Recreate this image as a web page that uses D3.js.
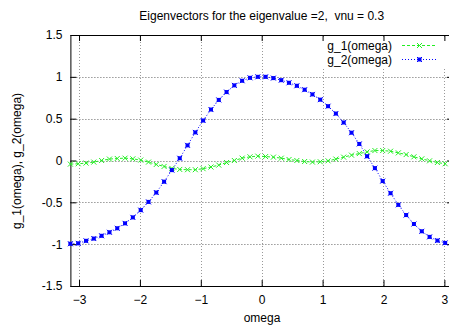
<!DOCTYPE html>
<html>
<head>
<meta charset="utf-8">
<script src="https://cdn.jsdelivr.net/npm/d3@7"></script>
<style>
  body { margin: 0; background: #fff; }
  text { font-family: "Liberation Sans", Arial, sans-serif; }
</style>
</head>
<body>
<script>
var w = 449;
var h = 331;

var omega = [
  -3.142, -3.013, -2.885, -2.757, -2.629, -2.500, -2.372, -2.244, -2.116, -1.987,
  -1.859, -1.731, -1.603, -1.475, -1.346, -1.218, -1.090, -0.962, -0.833, -0.705,
  -0.577, -0.449, -0.321, -0.192, -0.064, 0.064, 0.192, 0.321, 0.449, 0.577,
  0.705, 0.833, 0.962, 1.090, 1.218, 1.346, 1.475, 1.603, 1.731, 1.859,
  1.987, 2.116, 2.244, 2.372, 2.500, 2.629, 2.757, 2.885, 3.013
];

var g1 = [
  -0.043, -0.039, -0.031, -0.019, 0.000, 0.017, 0.024, 0.028, 0.020, 0.005,
  -0.019, -0.047, -0.071, -0.095, -0.107, -0.110, -0.110, -0.098, -0.078, -0.055,
  -0.024, 0.000, 0.028, 0.044, 0.052, 0.047, 0.040, 0.028, 0.012, 0.000,
  -0.012, -0.019, -0.015, -0.004, 0.017, 0.040, 0.064, 0.083, 0.103, 0.119,
  0.119, 0.111, 0.091, 0.071, 0.044, 0.020, -0.004, -0.024, -0.039
];

var g2 = [
  -0.995, -0.99, -0.96, -0.933, -0.90, -0.858, -0.81, -0.751, -0.68, -0.593,
  -0.495, -0.383, -0.253, -0.115, 0.027, 0.181, 0.336, 0.478, 0.609, 0.724,
  0.818, 0.898, 0.953, 0.988, 1.0, 1.0, 0.985, 0.96, 0.929, 0.893,
  0.846, 0.79, 0.727, 0.649, 0.561, 0.454, 0.332, 0.198, 0.051, -0.091,
  -0.246, -0.391, -0.53, -0.652, -0.759, -0.846, -0.913, -0.957, -0.985
];

var xTicks = [-3, -2, -1, 0, 1, 2, 3];
var yTicks = [-1.5, -1, -0.5, 0, 0.5, 1, 1.5];
var seriesNames = ["g_1(omega)", "g_2(omega)"];

var green = "#22ee22";
var blue = "#0000ff";

var x = d3.scaleLinear().domain([-Math.PI, Math.PI]).range([70.4, 453]);
var y = d3.scaleLinear().domain([-1.5, 1.5]).range([286, 35]);

var svg = d3.select("body")
            .append("svg")
              .attr("width", w)
              .attr("height", h);

// grid
svg.selectAll(".hgrid")
   .data(yTicks)
   .enter()
   .append("line")
     .attr("x1", x.range()[0])
     .attr("x2", x.range()[1])
     .attr("y1", function(d) { return Math.round(y(d)) + 0.5; })
     .attr("y2", function(d) { return Math.round(y(d)) + 0.5; })
     .attr("stroke", "#666")
     .attr("stroke-dasharray", "1,2");

svg.selectAll(".vgrid")
   .data(xTicks)
   .enter()
   .append("line")
     .attr("x1", function(d) { return Math.round(x(d)) + 0.5; })
     .attr("x2", function(d) { return Math.round(x(d)) + 0.5; })
     .attr("y1", y.range()[0])
     .attr("y2", y.range()[1])
     .attr("stroke", "#999")
     .attr("stroke-dasharray", "1,2");

// legend background hides grid
svg.append("rect")
   .attr("x", 318)
   .attr("y", 37)
   .attr("width", 140)
   .attr("height", 30)
   .attr("fill", "#fff");

// axes
function styleAxis(g) {
  g.select(".domain").attr("stroke", "#000");
  g.selectAll(".tick line").attr("stroke", "#000");
  g.selectAll("text")
    .attr("font-size", "12px")
    .attr("font-family", "Liberation Sans, Arial, sans-serif")
    .attr("fill", "#000");
}

svg.append("g")
   .attr("transform", "translate(0," + y.range()[0] + ")")
   .call(d3.axisBottom(x).tickValues(xTicks).tickSizeInner(-6).tickSizeOuter(0).tickPadding(9)
           .tickFormat(d3.format("d")))
   .call(styleAxis);

svg.append("g")
   .attr("transform", "translate(0," + y.range()[1] + ")")
   .call(d3.axisTop(x).tickValues(xTicks).tickSizeInner(-6).tickSizeOuter(0).tickFormat(""))
   .call(styleAxis);

svg.append("g")
   .attr("transform", "translate(" + x.range()[0] + ",0)")
   .call(d3.axisLeft(y).tickValues(yTicks).tickSizeInner(-6).tickSizeOuter(0).tickPadding(8)
           .tickFormat(function(d) { return d; }))
   .call(styleAxis);

svg.append("g")
   .attr("transform", "translate(" + x.range()[1] + ",0)")
   .call(d3.axisRight(y).tickValues(yTicks).tickSizeInner(-6).tickSizeOuter(0).tickFormat(""))
   .call(styleAxis);

// series
var pts1 = omega.map(function(d, i) { return {x: d, y: g1[i]}; });
var pts2 = omega.map(function(d, i) { return {x: d, y: g2[i]}; });

var line = d3.line()
             .x(function(d) { return x(d.x); })
             .y(function(d) { return y(d.y); });

svg.append("path")
   .datum(pts1)
   .attr("d", line)
   .attr("fill", "none")
   .attr("stroke", green)
   .attr("stroke-dasharray", "3,2");

svg.append("path")
   .datum(pts2)
   .attr("d", line)
   .attr("fill", "none")
   .attr("stroke", blue)
   .attr("stroke-dasharray", "1,2");

function crossMark(g, cx, cy, color) {
  g.append("path")
   .attr("d", "M" + (cx - 2.5) + "," + (cy - 2.5) + "L" + (cx + 2.5) + "," + (cy + 2.5) +
              "M" + (cx - 2.5) + "," + (cy + 2.5) + "L" + (cx + 2.5) + "," + (cy - 2.5))
   .attr("stroke", color)
   .attr("fill", "none");
}

function starMark(g, cx, cy, color) {
  g.append("rect")
   .attr("x", cx - 2)
   .attr("y", cy - 2)
   .attr("width", 4)
   .attr("height", 4)
   .attr("fill", color);
  crossMark(g, cx, cy, color);
}

var m1 = svg.append("g");
pts1.forEach(function(d) { crossMark(m1, x(d.x), y(d.y), green); });

var m2 = svg.append("g");
pts2.forEach(function(d) { starMark(m2, x(d.x), y(d.y), blue); });

// legend
var legend = svg.append("g");
seriesNames.forEach(function(name, i) {
  var ly = 45.5 + i * 14;
  var col = i === 0 ? green : blue;
  legend.append("text")
        .text(name)
        .attr("x", 392)
        .attr("y", ly + 4)
        .attr("text-anchor", "end")
        .attr("font-size", "12px");
  legend.append("line")
        .attr("x1", 402)
        .attr("x2", 437)
        .attr("y1", ly)
        .attr("y2", ly)
        .attr("stroke", col)
        .attr("stroke-dasharray", i === 0 ? "3,2" : "1,2");
  if (i === 0) crossMark(legend, 419.5, ly, col);
  else starMark(legend, 419.5, ly, col);
});

// labels
svg.append("text")
   .text("Eigenvectors for the eigenvalue =2,  vnu = 0.3")
   .attr("x", 261.7)
   .attr("y", 20)
   .attr("text-anchor", "middle")
   .attr("font-size", "12px")
   .style("white-space", "pre");

svg.append("text")
   .text("omega")
   .attr("x", 262)
   .attr("y", 322)
   .attr("text-anchor", "middle")
   .attr("font-size", "12px");

svg.append("text")
   .text("g_1(omega), g_2(omega)")
   .attr("transform", "translate(21,161) rotate(-90)")
   .attr("text-anchor", "middle")
   .attr("font-size", "12px");
</script>
</body>
</html>
